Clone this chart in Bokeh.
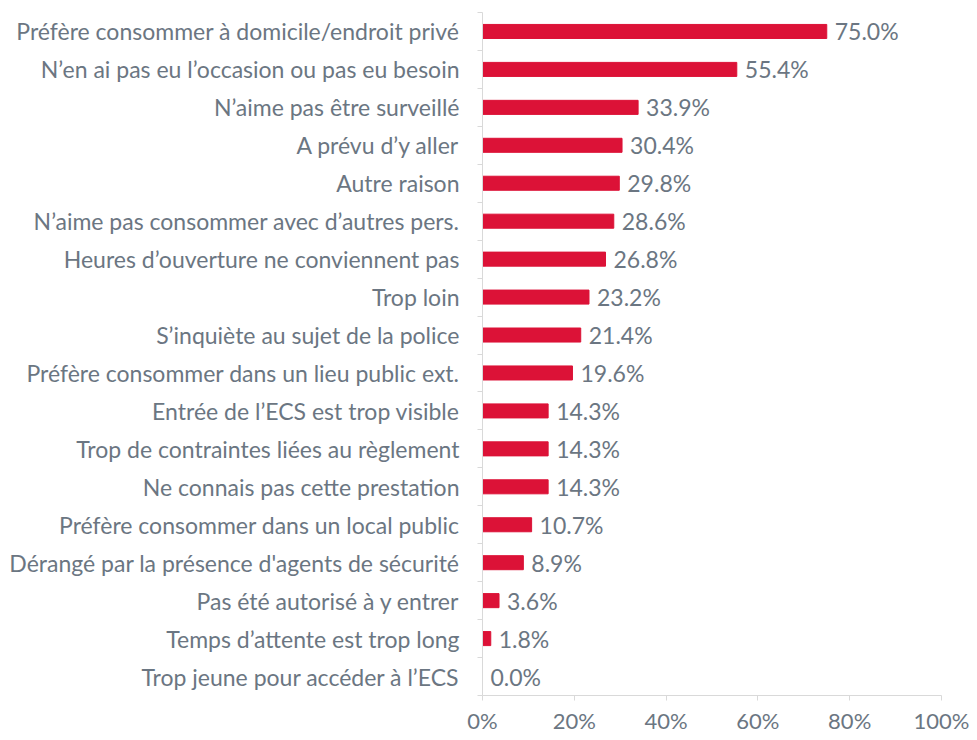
from bokeh.plotting import figure
from bokeh.models import Range1d, FixedTicker, NumeralTickFormatter, ColumnDataSource
from bokeh.core.properties import value
from bokeh.embed import file_html
from bokeh.resources import INLINE

categories = [
    "Préfère consommer à domicile/endroit privé",
    "N’en ai pas eu l’occasion ou pas eu besoin",
    "N’aime pas être surveillé",
    "A prévu d’y aller",
    "Autre raison",
    "N’aime pas consommer avec d’autres pers.",
    "Heures d’ouverture ne conviennent pas",
    "Trop loin",
    "S’inquiète au sujet de la police",
    "Préfère consommer dans un lieu public ext.",
    "Entrée de l’ECS est trop visible",
    "Trop de contraintes liées au règlement",
    "Ne connais pas cette prestation",
    "Préfère consommer dans un local public",
    "Dérangé par la présence d'agents de sécurité",
    "Pas été autorisé à y entrer",
    "Temps d’attente est trop long",
    "Trop jeune pour accéder à l’ECS",
]
values = [75.0, 55.4, 33.9, 30.4, 29.8, 28.6, 26.8, 23.2, 21.4, 19.6, 14.3, 14.3, 14.3, 10.7, 8.9, 3.6, 1.8, 0.0]
x_ticks = [0, 0.2, 0.4, 0.6, 0.8, 1.0]

TEXT = "#6b7682"
FONT = "Lato"
RED = "#dc1237"
AXIS = "#d9d9d9"

n = len(categories)
pos = list(range(n))
src = ColumnDataSource(dict(
    y=pos,
    v=[x / 100 for x in values],
    lab=[f"{x:.1f}%" for x in values],
))

p = figure(width=973, height=736, output_backend="svg", toolbar_location=None,
           x_range=Range1d(0, 1), y_range=Range1d(n - 0.5, -0.5),
           min_border_left=482, min_border_right=32, min_border_top=12, min_border_bottom=36)
p.outline_line_color = None
p.xgrid.grid_line_color = None
p.ygrid.grid_line_color = None

p.hbar(y="y", left=0, right="v", height=0.37, source=src, color=RED)
p.text(x="v", y="y", text="lab", source=src, x_offset=8, text_baseline="middle",
       text_align="left", text_font=value(FONT), text_font_size="23px", text_color=TEXT)

p.xaxis.ticker = FixedTicker(ticks=x_ticks)
p.xaxis.formatter = NumeralTickFormatter(format="0%")
p.xaxis.axis_line_color = AXIS
p.xaxis.major_tick_line_color = AXIS
p.xaxis.major_tick_out = 5
p.xaxis.major_tick_in = 0
p.xaxis.minor_tick_line_color = None
p.xaxis.major_label_text_font = FONT
p.xaxis.major_label_text_font_size = "22px"
p.xaxis.major_label_text_color = TEXT
p.xaxis.major_label_standoff = 6

p.yaxis.ticker = FixedTicker(ticks=pos, minor_ticks=[i - 0.5 for i in range(n + 1)])
p.yaxis.major_label_overrides = {i: c for i, c in enumerate(categories)}
p.yaxis.axis_line_color = AXIS
p.yaxis.major_tick_line_color = None
p.yaxis.minor_tick_line_color = AXIS
p.yaxis.minor_tick_out = 5
p.yaxis.minor_tick_in = 0
p.yaxis.major_label_text_font = FONT
p.yaxis.major_label_text_font_size = "23px"
p.yaxis.major_label_text_color = TEXT
p.yaxis.major_label_standoff = 17

open("out.html", "w").write(file_html(p, INLINE))
